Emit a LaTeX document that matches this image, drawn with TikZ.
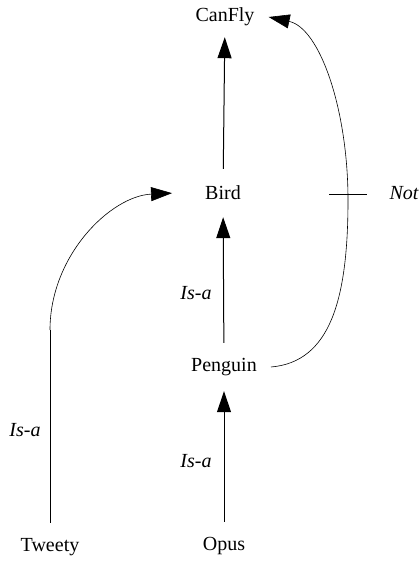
\documentclass[tikz,border=0pt]{standalone}
\usepackage{fontspec}
\setmainfont{Liberation Serif}
\usetikzlibrary{arrows.meta}
\begin{document}
\begin{tikzpicture}[x=1pt,y=-1pt,
  concept/.style={inner xsep=14pt, inner ysep=0pt, minimum height=48pt, font=\fontsize{20}{24}\selectfont},
  lbl/.style={font=\fontsize{20}{24}\selectfont\itshape, inner sep=0pt},
  link/.style={line width=1pt, -{Triangle[length=21pt,width=14pt]}},
  curvelink/.style={line width=0.6pt, -{Triangle[length=21pt,width=14pt]}}]
\useasboundingbox (0,0) rectangle (419,561);
\node[concept] (canfly) at (225,17) {CanFly};
\node[concept] (bird) at (223,193) {Bird};
\node[concept] (penguin) at (224,367) {Penguin};
\node[concept] (opus) at (224,546) {Opus};
\node[concept] (tweety) at (50,547) {Tweety};
\draw[link, shorten >=-4pt] (bird) -- (canfly);
\draw[link] (penguin) -- (bird);
\draw[link] (opus) -- (penguin);
\coordinate (tc) at (50,330);
\draw[line width=0.8pt] (tweety.north) -- (tc);
\draw[curvelink, shorten >=3pt] (tc) .. controls (50,255) and (111,196) .. ([xshift=-16pt]bird.west);
\coordinate (notc) at (348,194);
\draw[curvelink] (penguin.east) .. controls (330,362) and (348,300) .. (348,200)
   .. controls (348,110) and (320,28) .. (canfly.east);
\draw[line width=0.8pt] ([xshift=-19pt]notc) -- ([xshift=19pt]notc);
\node[lbl] (not) at (404,193) {Not};
\node[lbl] (isa1) at (196,293) {Is-a};
\node[lbl] (isa2) at (196,461) {Is-a};
\node[lbl] (isa3) at (25,430) {Is-a};
\end{tikzpicture}
\end{document}
